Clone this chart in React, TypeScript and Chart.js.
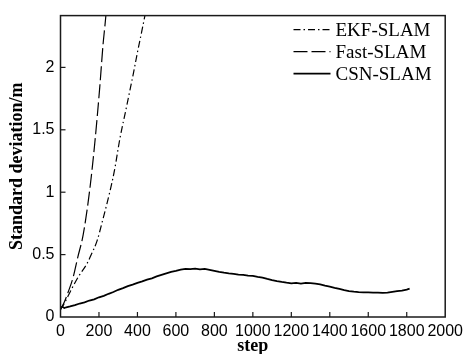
import React, { useEffect, useRef } from "react";
import { Chart, registerables } from "chart.js";

Chart.register(...registerables);

const seriesLabels = ["EKF-SLAM", "Fast-SLAM", "CSN-SLAM"];

const ekfSteps = [0, 20, 40, 70, 100, 135, 160, 190, 220, 256, 280, 310, 340, 360, 380, 400, 420, 437, 445];
const ekfValues = [0.06, 0.11, 0.17, 0.26, 0.34, 0.42, 0.5, 0.61, 0.78, 1.0, 1.17, 1.44, 1.66, 1.81, 1.96, 2.12, 2.27, 2.4, 2.46];

const fastSteps = [0, 20, 40, 66, 90, 118, 152, 178, 204, 221, 235, 240];
const fastValues = [0.06, 0.12, 0.2, 0.32, 0.48, 0.66, 1.02, 1.39, 1.84, 2.18, 2.4, 2.5];

const csnSteps = [0, 10, 20, 30, 50, 75, 100, 125, 150, 175, 200, 225, 250, 275, 300, 325, 350, 375, 400, 425, 450, 475, 500, 525, 550, 575, 600, 625, 650, 675, 700, 725, 750, 775, 800, 825, 850, 875, 900, 925, 950, 975, 1000, 1025, 1050, 1075, 1100, 1125, 1150, 1175, 1200, 1225, 1250, 1275, 1300, 1325, 1350, 1375, 1400, 1425, 1450, 1475, 1500, 1525, 1550, 1575, 1600, 1625, 1650, 1675, 1700, 1725, 1750, 1775, 1800, 1815];
const csnValues = [0.075, 0.082, 0.072, 0.078, 0.085, 0.095, 0.108, 0.118, 0.132, 0.142, 0.158, 0.17, 0.186, 0.2, 0.218, 0.232, 0.248, 0.26, 0.274, 0.285, 0.3, 0.31, 0.325, 0.338, 0.35, 0.362, 0.37, 0.38, 0.386, 0.384, 0.388, 0.382, 0.385, 0.378, 0.37, 0.362, 0.355, 0.35, 0.346, 0.34, 0.337, 0.332, 0.33, 0.322, 0.316, 0.305, 0.296, 0.288, 0.281, 0.275, 0.27, 0.273, 0.268, 0.274, 0.272, 0.268, 0.262, 0.252, 0.244, 0.234, 0.225, 0.215, 0.208, 0.203, 0.2, 0.198, 0.197, 0.196, 0.195, 0.194, 0.196, 0.202, 0.207, 0.212, 0.22, 0.228];

const xTicks = [0, 200, 400, 600, 800, 1000, 1200, 1400, 1600, 1800, 2000];
const yTicks = [0, 0.5, 1, 1.5, 2];

const xTitle = "step";
const yTitle = "Standard deviation/m";

const pts = (xs: number[], ys: number[]) => xs.map((x, i) => ({ x, y: ys[i] }));

const frameAndLegend = {
  id: "frameAndLegend",
  afterDatasetsDraw(chart: any) {
    const { ctx, chartArea: a, scales } = chart;
    ctx.save();
    ctx.strokeStyle = "#1a1a1a";
    ctx.lineWidth = 1.5;
    ctx.setLineDash([]);
    ctx.strokeRect(a.left, a.top, a.right - a.left, a.bottom - a.top);
    ctx.lineWidth = 1.2;
    const tl = 5;
    scales.x.ticks.forEach((t: any) => {
      const px = scales.x.getPixelForValue(t.value);
      if (px <= a.left + 1 || px >= a.right - 1) return;
      ctx.beginPath();
      ctx.moveTo(px, a.bottom);
      ctx.lineTo(px, a.bottom - tl);
      ctx.stroke();
    });
    scales.y.ticks.forEach((t: any) => {
      const py = scales.y.getPixelForValue(t.value);
      if (py >= a.bottom - 1 || py <= a.top + 1) return;
      ctx.beginPath();
      ctx.moveTo(a.left, py);
      ctx.lineTo(a.left + tl, py);
      ctx.stroke();
    });
    // legend
    const x0 = a.left + 233;
    const x1 = a.left + 270;
    const tx = a.left + 275;
    let y = a.top + 14;
    ctx.font = '19px "Liberation Serif", "Times New Roman", serif';
    ctx.textBaseline = "middle";
    ctx.textAlign = "left";
    chart.data.datasets.forEach((ds: any) => {
      ctx.strokeStyle = ds.borderColor;
      ctx.lineWidth = ds.borderWidth;
      ctx.setLineDash(ds.borderDash || []);
      ctx.beginPath();
      ctx.moveTo(x0, y);
      ctx.lineTo(x1, y);
      ctx.stroke();
      ctx.setLineDash([]);
      ctx.fillStyle = "#000";
      ctx.fillText(ds.label, tx, y + 1);
      y += 22;
    });
    ctx.restore();
  },
};

export default function App() {
  const ref = useRef<HTMLCanvasElement | null>(null);
  useEffect(() => {
    if (!ref.current) return;
    const chart = new Chart(ref.current, {
      type: "line",
      data: {
        datasets: [
          {
            label: seriesLabels[0],
            data: pts(ekfSteps, ekfValues),
            borderColor: "#000",
            borderWidth: 1.2,
            borderDash: [7, 3, 1.5, 3],
            pointRadius: 0,
            cubicInterpolationMode: "monotone",
          },
          {
            label: seriesLabels[1],
            data: pts(fastSteps, fastValues),
            borderColor: "#000",
            borderWidth: 1.2,
            borderDash: [14, 4],
            pointRadius: 0,
            cubicInterpolationMode: "monotone",
          },
          {
            label: seriesLabels[2],
            data: pts(csnSteps, csnValues),
            borderColor: "#000",
            borderWidth: 1.8,
            pointRadius: 0,
            tension: 0,
          },
        ],
      },
      options: {
        animation: false,
        responsive: false,
        devicePixelRatio: 1,
        layout: { padding: { left: 0, top: 10, right: 21, bottom: 0 } },
        plugins: { legend: { display: false }, tooltip: { enabled: false } },
        scales: {
          x: {
            type: "linear",
            min: 0,
            max: 2000,
            afterBuildTicks: (s: any) => { s.ticks = xTicks.map((v) => ({ value: v })); },
            afterFit: (s: any) => { s.height = 37; },
            grid: { display: false, drawTicks: false },
            border: { display: false },
            ticks: {
              padding: 5,
              maxRotation: 0,
              autoSkip: false,
              color: "#000",
              font: { family: '"Liberation Sans", Arial, sans-serif', size: 16 },
              callback: (v: any) => String(v),
            },
            title: {
              display: true,
              text: xTitle,
              color: "#000",
              padding: { top: 0, bottom: 0 },
              font: { family: '"Liberation Serif", "Times New Roman", serif', size: 18, weight: "bold", lineHeight: 0.8 },
            },
          },
          y: {
            type: "linear",
            min: 0,
            max: 2.415,
            afterBuildTicks: (s: any) => { s.ticks = yTicks.map((v) => ({ value: v })); },
            afterFit: (s: any) => { s.width = 60.5; },
            grid: { display: false, drawTicks: false },
            border: { display: false },
            ticks: {
              padding: 6,
              autoSkip: false,
              color: "#000",
              font: { family: '"Liberation Sans", Arial, sans-serif', size: 16 },
              callback: (v: any) => String(v),
            },
            title: {
              display: true,
              text: yTitle,
              color: "#000",
              padding: { top: 7, bottom: 0 },
              font: { family: '"Liberation Serif", "Times New Roman", serif', size: 18, weight: "bold" },
            },
          },
        },
      },
      plugins: [frameAndLegend],
    });
    return () => chart.destroy();
  }, []);
  return (
    <div style={{ position: "fixed", left: 0, top: 0, width: 468, height: 354, background: "#fff" }}>
      <canvas ref={ref} width={468} height={354} style={{ display: "block" }} />
    </div>
  );
}
